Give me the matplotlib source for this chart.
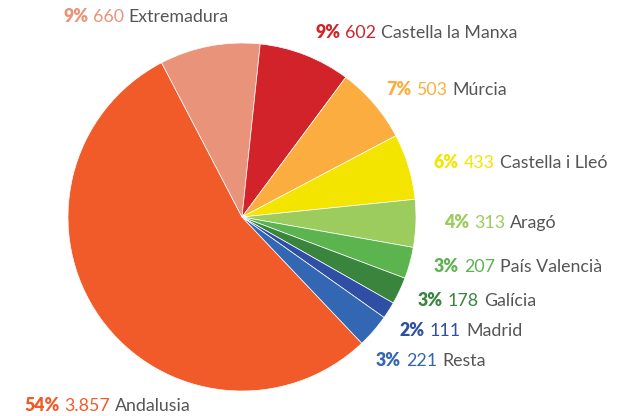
import matplotlib
matplotlib.use("Agg")
import matplotlib.pyplot as plt

regions = ["Andalusia", "Extremadura", "Castella la Manxa", "Múrcia", "Castella i Lleó",
           "Aragó", "País Valencià", "Galícia", "Madrid", "Resta"]
values = [3857, 660, 602, 503, 433, 313, 207, 178, 111, 221]
value_labels = ["3.857", "660", "602", "503", "433", "313", "207", "178", "111", "221"]
pct_labels = ["54%", "9%", "9%", "7%", "6%", "4%", "3%", "3%", "2%", "3%"]
colors = ["#f15a29", "#e8937a", "#d2232a", "#fbae3f", "#f3e500",
          "#9ccb5e", "#5cb44f", "#3a853e", "#2e4fa3", "#3366b3"]

# label anchor (left edge, bottom) in pixel coords of the figure
label_pos = [(24, 414), (63, 25), (315, 41), (386, 98), (434, 171),
             (444, 231), (434, 275), (418, 309), (400, 339), (376, 369)]

W, H = 628, 416
fig = plt.figure(figsize=(W / 100, H / 100), dpi=100)
ax = fig.add_axes([0, 0, 1, 1])

# y axis is inverted below, so counterclock=True draws clockwise on screen
ax.pie(values, colors=colors, startangle=46.5, counterclock=True,
       center=(242, 217), radius=174,
       wedgeprops=dict(linewidth=0.5, edgecolor="white"))
ax.set_xlim(0, W)
ax.set_ylim(H, 0)
ax.set_aspect("equal")
ax.axis("off")

fs = 12.8
font = "Lato"
for name, pct, vl, c, (x, y) in zip(regions, pct_labels, value_labels, colors, label_pos):
    t1 = ax.text(x, y, pct, color=c, fontsize=fs, fontweight="heavy",
                 family=font, ha="left", va="bottom")
    t2 = ax.annotate(vl, xy=(1, 0), xycoords=t1, xytext=(3.5, 0),
                     textcoords="offset points", color=c, fontsize=fs,
                     family=font, ha="left", va="bottom")
    ax.annotate(name, xy=(1, 0), xycoords=t2, xytext=(3.5, 0),
                textcoords="offset points", color="#555555", fontsize=fs,
                family=font, ha="left", va="bottom")

fig.savefig("out.png", dpi=100)
